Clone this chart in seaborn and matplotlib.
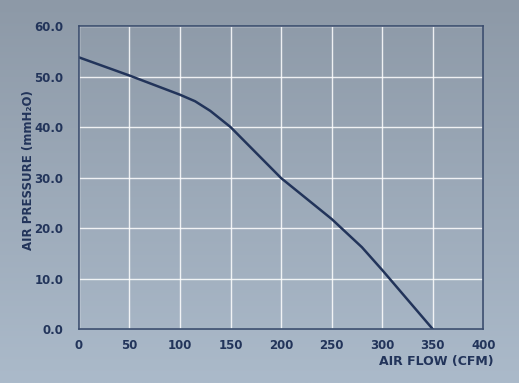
import numpy as np
import pandas as pd
import matplotlib.pyplot as plt
import seaborn as sns

# fan curve
flow = [0, 50, 100, 115, 130, 150, 200, 250, 280, 300, 350]
pressure = [53.8, 50.2, 46.4, 45.1, 43.2, 40.0, 29.9, 21.8, 16.2, 11.7, 0.0]
x_ticks = [0, 50, 100, 150, 200, 250, 300, 350, 400]
y_ticks = [0, 10, 20, 30, 40, 50, 60]

navy = "#22345a"
df = pd.DataFrame({"flow": flow, "pressure": pressure})

sns.set_style("white")
plt.rcParams["font.family"] = ["DejaVu Sans"]

fig = plt.figure(figsize=(5.19, 3.83), dpi=100)

# gradient background
grad = np.linspace(0, 1, 256).reshape(-1, 1)
c_top = np.array([0x8d, 0x99, 0xa7]) / 255
c_bot = np.array([0xab, 0xba, 0xca]) / 255
img = c_top + (c_bot - c_top) * grad[:, :, None]
bg = fig.add_axes([0, 0, 1, 1])
bg.imshow(np.repeat(img, 4, axis=1), aspect="auto", extent=[0, 1, 0, 1])
bg.axis("off")

ax = fig.add_axes([0.152, 0.141, 0.779, 0.791])
ax.patch.set_alpha(0)
sns.lineplot(data=df, x="flow", y="pressure", color=navy, linewidth=1.8, ax=ax)

ax.set_xlim(0, 400)
ax.set_ylim(0, 60)
ax.set_xticks(x_ticks)
ax.set_yticks(y_ticks)
ax.set_yticklabels([f"{v:.1f}" for v in y_ticks])
ax.grid(True, color="white", linewidth=1.0, alpha=0.85)
ax.set_axisbelow(True)
for s in ax.spines.values():
    s.set_color("#3b4d6e")
    s.set_linewidth(1.2)
ax.tick_params(length=0, labelsize=8.5, labelcolor=navy)
ax.tick_params(axis="x", pad=7)
ax.tick_params(axis="y", pad=11)
for lbl in ax.get_xticklabels() + ax.get_yticklabels():
    lbl.set_fontweight("bold")

ax.set_xlabel("")
ax.set_ylabel("")
fig.text(0.952, 0.057, "AIR FLOW (CFM)", ha="right", va="center",
         fontsize=9, fontweight="bold", color=navy)
fig.text(0.054, 0.555, "AIR PRESSURE (mmH₂O)", ha="center", va="center",
         rotation=90, fontsize=8.5, fontweight="bold", color=navy)

fig.savefig("out.png", dpi=100)
